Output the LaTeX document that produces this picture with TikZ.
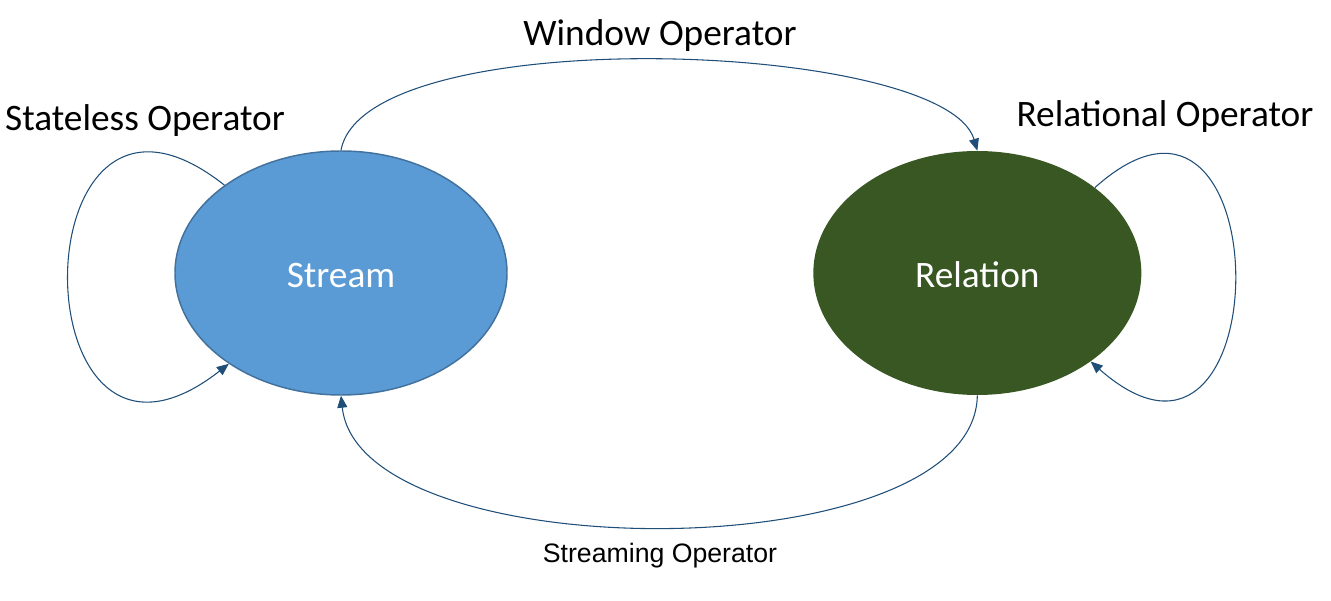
\documentclass[tikz,border=0pt]{standalone}
\usepackage{fontspec}
\setmainfont{Carlito}
\newfontfamily\arialfont{Liberation Sans}
\usetikzlibrary{shapes.geometric, arrows.meta, positioning}

\definecolor{streamblue}{HTML}{5B9BD5}
\definecolor{streamedge}{HTML}{41719C}
\definecolor{relgreen}{HTML}{385723}
\definecolor{linkblue}{HTML}{1F4E79}

\begin{document}
\begin{tikzpicture}[x=0.75pt, y=0.75pt]
\tikzstyle{state} = [ellipse, inner sep=0pt, minimum height=183pt, text height=22pt, text depth=0pt, text=white, font=\fontsize{28}{34}\selectfont]
\tikzstyle{oplabel} = [inner sep=0pt, font=\fontsize{28}{34}\selectfont]
\tikzstyle{arrow} = [draw=linkblue, line width=0.8pt, -{Triangle[length=9pt, width=7.5pt]}]

\useasboundingbox (0,0) rectangle (1331,600);

\node (stream) [state, fill=streamblue, draw=streamedge, line width=1.1pt, minimum width=249pt] at (341,327) {Stream};
\node (relation) [state, fill=relgreen, minimum width=246pt, right=229pt of stream] {Relation};

\node (window) [oplabel] at (660,564) {Window Operator};
\node (stateless) [oplabel] at (145,479) {Stateless Operator};
\node (relational) [oplabel] at (1165,483) {Relational Operator};
\node (streaming) [oplabel, font=\arialfont\fontsize{20}{24}\selectfont] at (660,44) {Streaming Operator};

\draw [arrow] (stream.north) .. controls (365,580) and (945,560) .. (relation.north);
\draw [arrow] (relation.south) .. controls (975,29) and (360,29) .. (stream.south);
\draw [arrow] (stream.143) .. controls (16,580) and (16,70) .. (stream.219);
\draw [arrow] (relation.36) .. controls (1282,580) and (1282,70) .. (relation.322);

\end{tikzpicture}
\end{document}
